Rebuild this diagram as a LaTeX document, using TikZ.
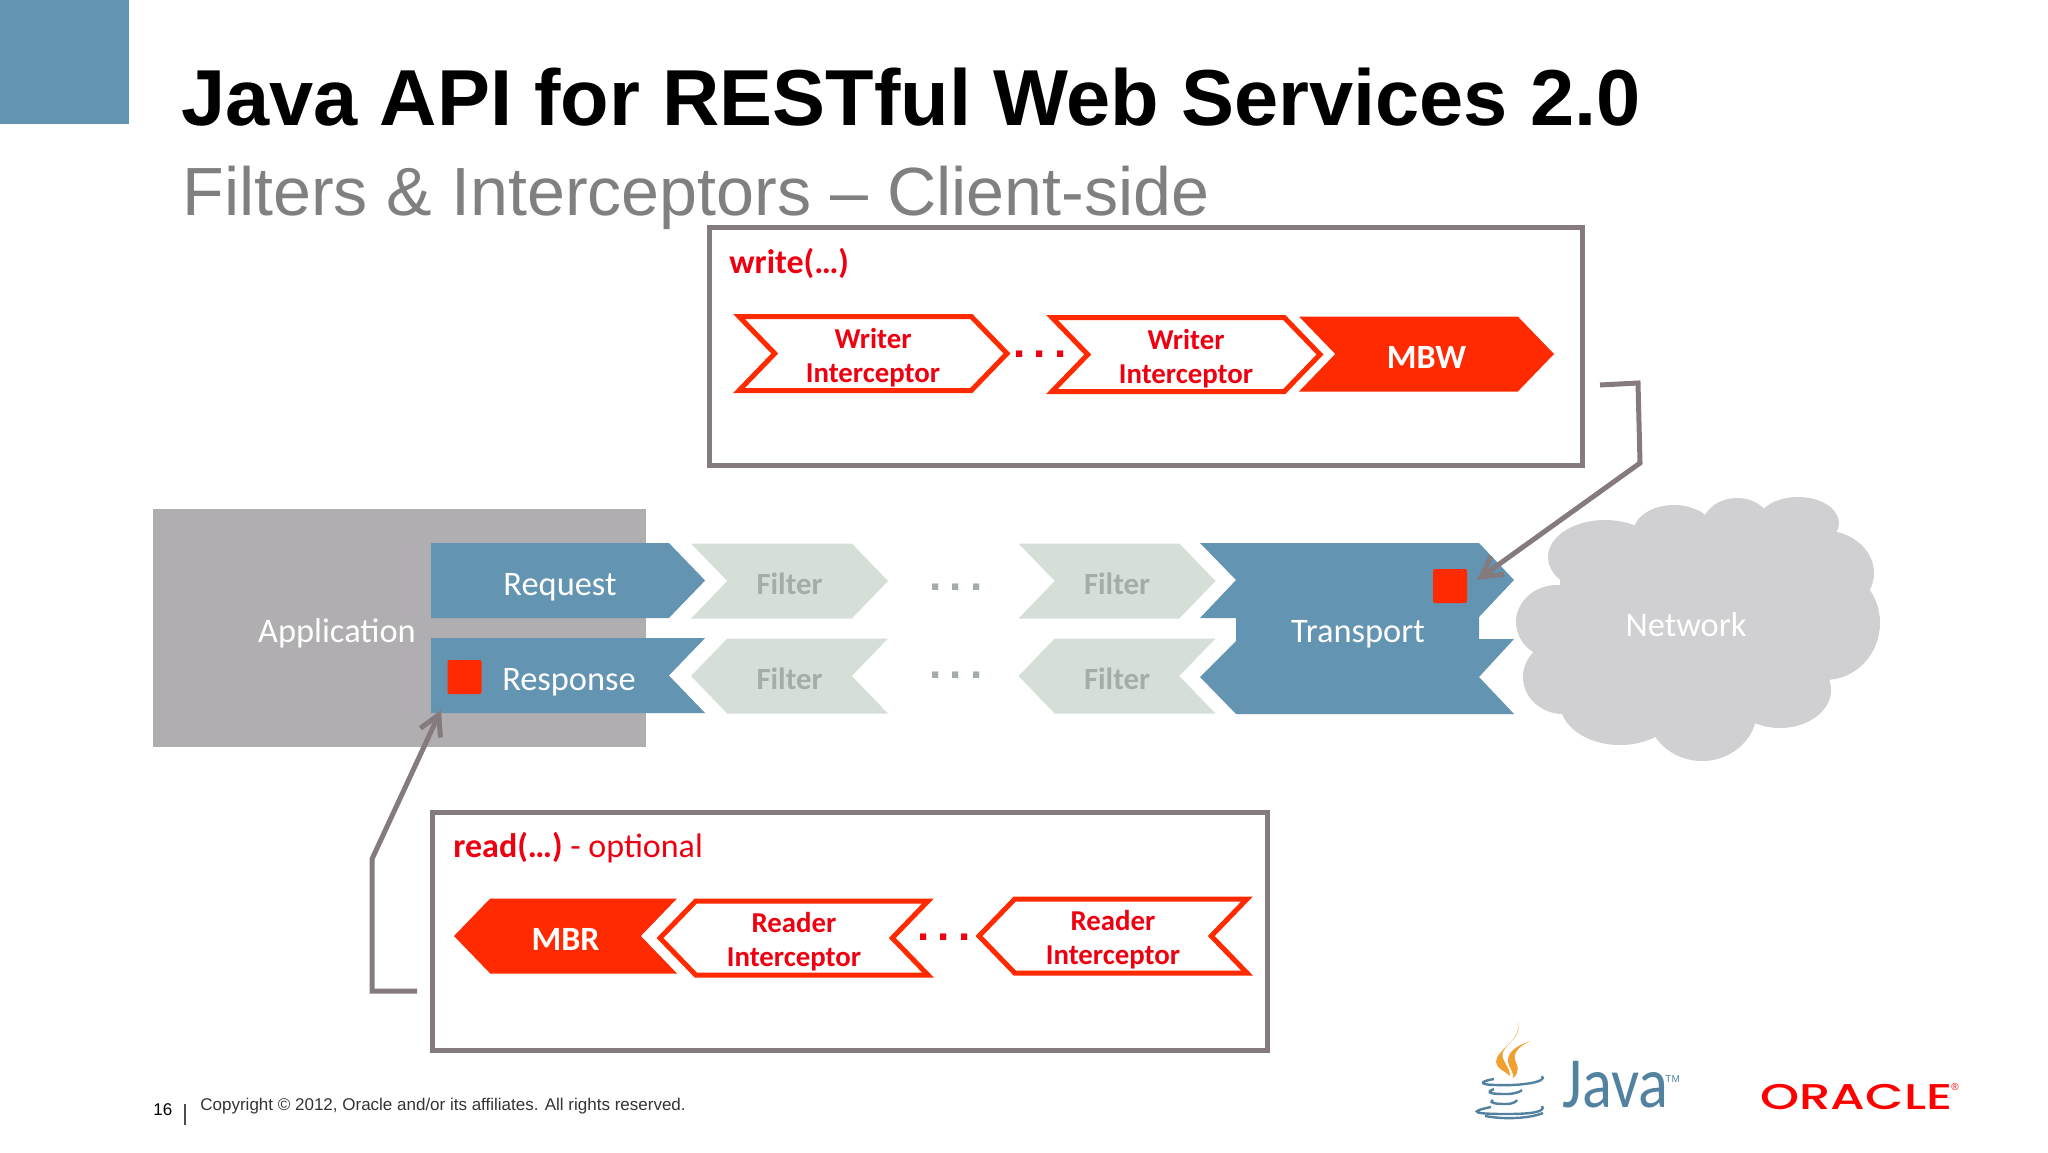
\documentclass[tikz,border=0pt]{standalone}
\usepackage{fontspec}
\setmainfont{Carlito}
\newfontfamily\arialfont{Liberation Sans}
\newfontfamily\logofont{Poppins Medium}
\usepackage{xcolor}
\usetikzlibrary{shapes.symbols, arrows.meta, positioning}
\definecolor{oraBlue}{HTML}{6394B2}
\definecolor{oraRed}{HTML}{FF2A00}
\definecolor{oraText}{HTML}{EE0010}
\definecolor{oraGrey}{HTML}{B0AEB0}
\definecolor{boxGrey}{HTML}{857A7D}
\definecolor{filterGreen}{HTML}{D6DED8}
\definecolor{filterText}{HTML}{A4AEA6}
\definecolor{cloudGrey}{HTML}{D0CFD2}
\definecolor{javaBlue}{HTML}{5382A1}
\definecolor{javaOrange}{HTML}{F0A030}

\begin{document}
\begin{tikzpicture}[
    x=0.5pt, y=-0.5pt,
    chevron/.style={signal, signal pointer angle=92, minimum height=37.5pt, inner sep=0pt, outer sep=0pt, align=center},
    bluesign/.style={chevron, signal to=east, minimum width=137pt, fill=oraBlue, text=white, text depth=0pt, font=\fontsize{17.2}{20}\selectfont},
    filtersign/.style={chevron, minimum width=98.5pt, fill=filterGreen, text=filterText, text height=13.3pt, text depth=0pt, font=\bfseries\fontsize{15.4}{18}\selectfont},
    intc/.style={chevron, minimum width=134pt, minimum height=37pt, draw=oraRed, line width=2.5pt, fill=white},
    intctext/.style={inner sep=0pt, align=center, yshift=-2pt, text=oraText, font=\bfseries\fontsize{14.4}{17}\selectfont},
    mbsign/.style={chevron, fill=oraRed, text=white, text height=14.8pt, text depth=0pt, font=\bfseries\fontsize{17}{20}\selectfont},
    framebox/.style={rectangle, draw=boxGrey, line width=2.5pt, inner sep=0pt, outer sep=0pt},
    redmark/.style={rectangle, fill=oraRed, rounded corners=1pt, minimum width=17pt, minimum height=17pt, inner sep=0pt},
    dotrow/.style={font=\arialfont\bfseries\fontsize{22}{22}\selectfont, inner sep=0pt},
    whitetext/.style={font=\fontsize{17.2}{20}\selectfont, text=white, inner sep=0pt},
    arrow/.style={-{Straight Barb[length=10pt, width=11pt]}, draw=boxGrey, line width=2.5pt, line join=miter}
]
\useasboundingbox (0,0) rectangle (2048,1152);

% Corner and title
\fill[oraBlue] (0,0) rectangle (129,124);
\node[anchor=base west, inner sep=0pt, font=\arialfont\bfseries\fontsize{39.7}{44}\selectfont] (title) at (181,125) {Java API for RESTful Web Services 2.0};
\node[anchor=base west, inner sep=0pt, text=black!50, font=\arialfont\fontsize{34.1}{38}\selectfont] (subtitle) at (182,215) {Filters \& Interceptors – Client-side};

% Application side
\node[rectangle, fill=oraGrey, minimum width=246.5pt, minimum height=119pt, inner sep=0pt] (app) at (399.5,628) {};
\node[whitetext] (applabel) at (337,633) {Application};
\node[bluesign, text height=15pt] (request) at (550,580.5) {\hspace*{10pt}Request};
\node[bluesign, signal to=nowhere, signal from=east, text height=14.8pt] (response) at (550,675.5) {\hspace*{19pt}Response};
\node[redmark] (respmark) at (464.5,677) {};

% Filters
\node[filtersign, signal to=east, signal from=west] (f1) at (789.5,581) {Filter};
\node[filtersign, signal to=east, signal from=west] (f2) at (1117,581) {Filter};
\node[filtersign, signal to=west, signal from=east] (f3) at (789.5,676) {Filter};
\node[filtersign, signal to=west, signal from=east] (f4) at (1117,676) {Filter};
\node[dotrow, text=filterText] (d1) at (956,587) {.\hspace{4.2pt}.\hspace{4.2pt}.};
\node[dotrow, text=filterText] (d2) at (956,675) {.\hspace{4.2pt}.\hspace{4.2pt}.};

% Transport
\fill[oraBlue] (1200,543) -- (1479,543) -- (1514,580) -- (1479,617) -- (1479,639) -- (1514,639) -- (1479,677) -- (1514,714) -- (1236,714) -- (1200,677) -- (1236,641) -- (1236,618) -- (1200,618) -- (1236,580) -- cycle;
\node[whitetext] (transport) at (1358,634) {Transport};
\node[redmark] (transmark) at (1450,586) {};

% Network
\fill[cloudGrey] (1605,557) ellipse [x radius=57, y radius=37]
    (1674,533) ellipse [x radius=41, y radius=28]
    (1737,527) ellipse [x radius=35, y radius=29]
    (1798,523) ellipse [x radius=41, y radius=26]
    (1822,573) ellipse [x radius=52, y radius=43]
    (1825,623) ellipse [x radius=55, y radius=57]
    (1780,690) ellipse [x radius=51, y radius=38]
    (1702,710) ellipse [x radius=55, y radius=51]
    (1620,703) ellipse [x radius=60, y radius=42]
    (1563,677) ellipse [x radius=40, y radius=37]
    (1557,622) ellipse [x radius=41, y radius=37];
\fill[cloudGrey] (1560,550) rectangle (1810,700);
\fill[cloudGrey] (1670,530) rectangle (1800,560);
\node[whitetext] (network) at (1686,625) {Network};

% write box
\node[framebox, minimum width=436.5pt, minimum height=119pt] (writebox) at (1145.5,346) {};
\node[anchor=west, inner sep=0pt, text=oraText, font=\bfseries\fontsize{17}{20}\selectfont] (writelabel) at (729,263) {write(…)};
\node[intc, signal to=east, signal from=west] (w1) at (873,353.5) {};
\node[intctext] (w1text) at (w1) {Writer\\Interceptor};
\node[intc, signal to=east, signal from=west] (w2) at (1186,354.5) {};
\node[intctext] (w2text) at (w2) {Writer\\Interceptor};
\node[mbsign, signal to=east, signal from=west, minimum width=127.5pt] (mbw) at (1426.5,354) {MBW};
\node[dotrow, text=oraText] (d3) at (1040,354) {.\hspace{4.2pt}.\hspace{4.2pt}.};

% read box
\node[framebox, minimum width=417.5pt, minimum height=119pt] (readbox) at (849.5,931) {};
\node[anchor=west, inner sep=0pt, text=oraText, font=\fontsize{17}{20}\selectfont] (readlabel) at (453,848) {\textbf{read(…)} - optional};
\node[mbsign, signal to=west, signal from=east, minimum width=111.5pt] (mbr) at (565.5,936) {MBR};
\node[intc, signal to=west, signal from=east] (r1) at (794,938) {};
\node[intctext] (r1text) at (r1) {Reader\\Interceptor};
\node[intc, signal to=west, signal from=east] (r2) at (1113,936) {};
\node[intctext] (r2text) at (r2) {Reader\\Interceptor};
\node[dotrow, text=oraText] (d4) at (944,937) {.\hspace{4.2pt}.\hspace{4.2pt}.};

% Arrows
\coordinate (wstart) at (1600,385);
\coordinate (wbend) at (1638,383);
\coordinate (wdown) at (1640,463);
\coordinate (wend) at (1477,580);
\coordinate (rstart) at (417,991);
\coordinate (rbend) at (372,991);
\coordinate (rup) at (372,859);
\coordinate (rend) at (441,710);
\draw[arrow] (wstart) -- (wbend) -- (wdown) -- (wend);
\draw[arrow] (rstart) -- (rbend) -- (rup) -- (rend);

% Footer
\node[anchor=west, inner sep=0pt, font=\arialfont\fontsize{8.5}{11}\selectfont] (page) at (153,1110) {16};
\coordinate (bartop) at (185,1104);
\coordinate (barbot) at (185,1125);
\draw[black!70, line width=0.6pt] (bartop) -- (barbot);
\node[anchor=west, inner sep=0pt, text=black!80, font=\arialfont\fontsize{8.5}{11}\selectfont] (copy) at (200,1106) {Copyright © 2012, Oracle and/or its affiliates. All rights reserved.};

% Java logo
\begin{scope}[xshift=-2pt]
\fill[javaOrange] (1522,1022) .. controls (1526,1040) and (1500,1050) .. (1500,1062) .. controls (1500,1068) and (1510,1072) .. (1514,1076) .. controls (1514,1066) and (1504,1060) .. (1507,1052) .. controls (1512,1042) and (1526,1036) .. (1522,1022) -- cycle;
\fill[javaOrange] (1534,1041) .. controls (1520,1046) and (1511,1052) .. (1512,1062) .. controls (1513,1068) and (1518,1072) .. (1517,1078) .. controls (1524,1072) and (1522,1066) .. (1519,1060) .. controls (1517,1052) and (1524,1046) .. (1534,1041) -- cycle;
\draw[javaBlue, line width=1.2pt] (1498,1079) .. controls (1480,1082) and (1486,1085) .. (1500,1085) .. controls (1525,1086) and (1552,1082) .. (1546,1076);
\draw[javaBlue, line width=1.2pt] (1498,1089) .. controls (1488,1093) and (1496,1094) .. (1510,1094) .. controls (1518,1094) and (1524,1092) .. (1526,1090);
\draw[javaBlue, line width=1.2pt] (1497,1100) .. controls (1492,1103) and (1500,1104) .. (1510,1104) .. controls (1516,1104) and (1520,1102) .. (1521,1100);
\draw[javaBlue, line width=1.2pt] (1495,1107) .. controls (1470,1112) and (1480,1114) .. (1510,1114) .. controls (1535,1114) and (1550,1112) .. (1546,1106);
\draw[javaBlue, line width=1.2pt] (1489,1116) .. controls (1510,1120) and (1535,1118) .. (1547,1113);
\end{scope}
\node[anchor=base west, inner sep=0pt, text=javaBlue, font=\fontsize{30}{30}\selectfont] (java) at (1562,1107) {\scalebox{1.04}[1.2]{Java}};
\node[anchor=base west, inner sep=0pt, text=javaBlue, font=\arialfont\fontsize{5}{6}\selectfont] (javatm) at (1665,1082) {TM};

% Oracle logo
\node[anchor=base west, inner sep=0pt, text=red, font=\logofont\fontsize{18}{18}\selectfont] (oracle) at (1760,1109) {\resizebox{96pt}{12.6pt}{ORACLE}};
\node[inner sep=0pt, text=red, font=\arialfont\fontsize{5}{5}\selectfont] (oraclereg) at (1955,1087) {®};
\end{tikzpicture}
\end{document}
